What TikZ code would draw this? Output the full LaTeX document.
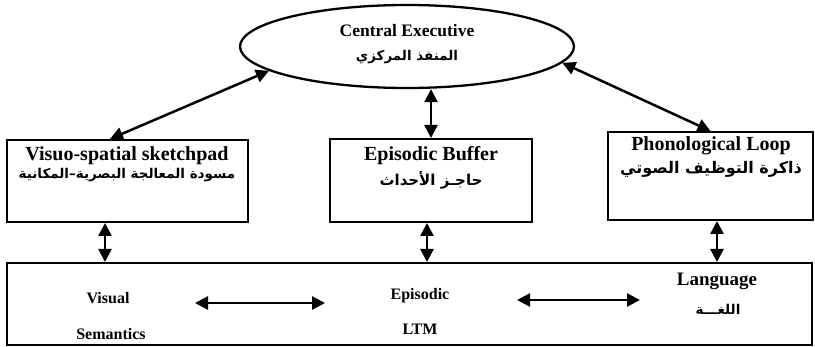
\documentclass[tikz,border=0pt]{standalone}
\usepackage{fontspec}
\setmainfont{Liberation Serif}
\newfontfamily\arabicfont[Script=Arabic]{DejaVu Sans}
\TeXXeTstate=1
\usetikzlibrary{arrows.meta,shapes.geometric}

\begin{document}
\begin{tikzpicture}[
  x=1pt, y=1pt,
  >={Triangle[length=13pt,width=13pt]},
  box line/.style   = {draw=black, line width=2pt},
  wm box/.style     = {box line, rectangle, inner sep=0pt},
  exec oval/.style  = {box line, ellipse, inner sep=0pt, line width=2.3pt},
  link/.style       = {<->, draw=black, line width=2.5pt},
  en title/.style   = {font=\fontsize{20}{22}\selectfont\bfseries, inner sep=0pt},
  ar title/.style   = {font=\arabicfont\fontsize{13.5}{15}\selectfont\bfseries, inner sep=0pt},
  ltm text/.style   = {font=\fontsize{16}{18}\selectfont\bfseries, inner sep=0pt},
]

% ── Page frame ─────────────────────────────────────────────────────────────
% 1pt per pixel of the 815 x 347 original, origin top left, y runs down (<0)
\useasboundingbox (0,0) rectangle (815,-347);

% ── Central executive ──────────────────────────────────────────────────────
\node[exec oval, minimum width=334pt, minimum height=83pt] (ce) at (407,-46.5) {};
\node[en title, font=\fontsize{17.5}{20}\selectfont\bfseries] (ceEn) at (407,-31) {Central Executive};
\node[ar title] (ceAr) at (407,-57) {\beginR المنفذ المركزي\endR};

% ── Slave systems ──────────────────────────────────────────────────────────
% Visuo-spatial sketchpad: x 7..248, y 140..222
\node[wm box, minimum width=241pt, minimum height=82pt] (vs) at (127.5,-181) {};
\node[en title] (vsEn) at (127,-156) {Visuo-spatial sketchpad};
\node[ar title] (vsAr) at (127,-175) {\beginR مسودة المعالجة البصرية–المكانية\endR};

% Episodic buffer: x 330..532, y 139..222
\node[wm box, minimum width=202pt, minimum height=83pt] (eb) at (431,-180.5) {};
\node[en title] (ebEn) at (431,-156) {Episodic Buffer};
\node[ar title, font=\arabicfont\fontsize{15}{17}\selectfont\bfseries] (ebAr) at (431,-180) {\beginR حاجـز الأحداث\endR};

% Phonological loop: x 608..813, y 132..220
\node[wm box, minimum width=205pt, minimum height=88pt] (pl) at (710.5,-176) {};
\node[en title] (plEn) at (711,-146) {Phonological Loop};
\node[ar title, font=\arabicfont\fontsize{16}{18}\selectfont\bfseries] (plAr) at (711,-169) {\beginR ذاكرة التوظيف الصوتي\endR};

% ── Long-term memory strip ─────────────────────────────────────────────────
% x 7..812, y 263..345
\node[wm box, minimum width=805pt, minimum height=82pt] (ltm) at (409.5,-304) {};

\node[ltm text] (visual) at (108,-298) {Visual};
\node[ltm text] (seman)  at (111,-334) {Semantics};
\node[ltm text] (episo)  at (420,-296) {Episodic};
\node[ltm text] (ltmlbl) at (420,-329) {LTM};
\node[en title, font=\fontsize{19}{21}\selectfont\bfseries] (lang) at (717,-281) {Language};
\node[ar title] (langAr) at (718,-309) {\beginR اللغـــة\endR};

% ── Links ──────────────────────────────────────────────────────────────────
% executive <-> slave systems
\draw[link] ([xshift=-17.5pt]vs.north) -- (ce.190);
\draw[link] (eb.north) -- (eb.north |- ce.south);
\draw[link] (ce.354) -- (pl.north);

% slave systems <-> LTM
\draw[link] ([xshift=-22.5pt]vs.south) coordinate (vsDown) -- (vsDown |- ltm.north);
\draw[link] ([xshift=-4pt]eb.south) coordinate (ebDown) -- (ebDown |- ltm.north);
\draw[link] ([xshift=6.5pt]pl.south) coordinate (plDown) -- (plDown |- ltm.north);

% inside LTM
\coordinate (visR)  at (195,-303);
\coordinate (epiL)  at (325,-303);
\coordinate (epiR)  at (517,-300);
\coordinate (langL) at (640,-300);
\draw[link] (visR) -- (epiL);
\draw[link] (epiR) -- (langL);

\end{tikzpicture}
\end{document}
